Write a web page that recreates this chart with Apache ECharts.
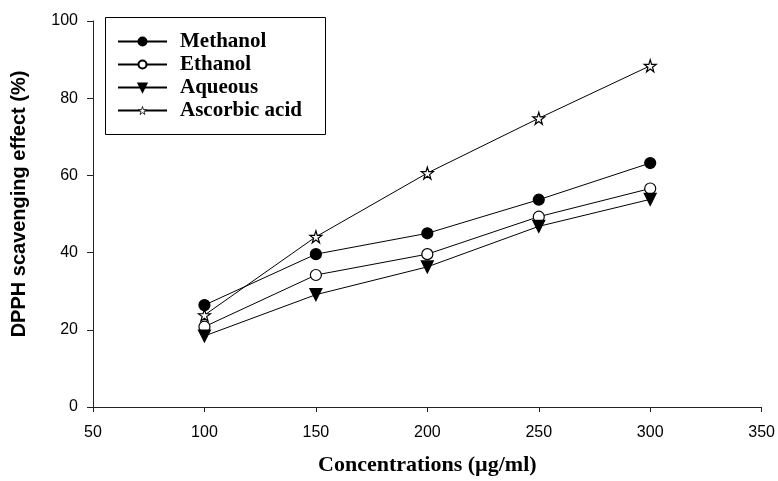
<!DOCTYPE html>
<html>
<head>
<meta charset="utf-8">
<script src="https://cdn.jsdelivr.net/npm/echarts@6/dist/echarts.min.js"></script>
<style>html,body{margin:0;padding:0;background:#fff;}#c{width:778px;height:481px;}</style>
</head>
<body>
<div id="c"></div>
<script>
var concentrations = [100, 150, 200, 250, 300];
var methanol = [26.4, 39.6, 45.0, 53.7, 63.2];
var ethanol = [20.8, 34.2, 39.6, 49.3, 56.6];
var aqueous = [18.4, 29.1, 36.3, 46.8, 53.8];
var ascorbic = [23.8, 44.1, 60.6, 74.8, 88.4];
var seriesNames = ['Methanol', 'Ethanol', 'Aqueous', 'Ascorbic acid'];
var xTicks = [50, 100, 150, 200, 250, 300, 350];
var yTicks = [0, 20, 40, 60, 80, 100];

function pairs(vals) { return concentrations.map(function (c, i) { return [c, vals[i]]; }); }

var starPath = 'path://M50,0 L61,35 L98,35 L68,57 L79,91 L50,70 L21,91 L32,57 L2,35 L39,35 Z';
var triDown = 'path://M0,0 L100,0 L50,90 Z';

function mk(name, data, symbol, size, fill) {
  return {
    name: name, type: 'line', data: pairs(data),
    symbol: symbol, symbolSize: size, showAllSymbol: true,
    lineStyle: { color: '#000', width: 1 },
    itemStyle: { color: fill, borderColor: '#000', borderWidth: 1.2 },
    emphasis: { disabled: true },
    z: 3
  };
}

var chart = echarts.init(document.getElementById('c'), null, { renderer: 'canvas' });
chart.setOption({
  animation: false,
  backgroundColor: '#fff',
  grid: { left: 93, right: 16, top: 21, bottom: 66.5, containLabel: false },
  legend: {
    data: [
      { name: seriesNames[0] },
      { name: seriesNames[1] },
      { name: seriesNames[2] },
      { name: seriesNames[3], itemStyle: { color: '#fff', borderColor: '#000', borderWidth: 0.8 } }
    ],
    orient: 'vertical',
    left: 117, top: 31,
    padding: 0,
    itemGap: 2,
    itemWidth: 49,
    itemHeight: 10,
    textStyle: { fontFamily: 'Liberation Serif', fontWeight: 'bold', fontSize: 21, color: '#000', padding: [0, 0, 0, 8] }
  },
  graphic: [{
    type: 'rect', left: 103, top: 15, z: 10,
    shape: { width: 220, height: 117 },
    style: { fill: 'none', stroke: '#000', lineWidth: 1 }
  }],
  xAxis: {
    type: 'value', min: xTicks[0], max: xTicks[xTicks.length - 1], interval: 50,
    name: 'Concentrations (µg/ml)', nameLocation: 'middle', nameGap: 47,
    nameTextStyle: { fontFamily: 'Liberation Serif', fontWeight: 'bold', fontSize: 22, color: '#000' },
    axisLine: { lineStyle: { color: '#222', width: 1 } },
    axisTick: { show: true, inside: false, length: 5, lineStyle: { color: '#222' } },
    axisLabel: { fontFamily: 'Liberation Sans', fontSize: 16, color: '#000', margin: 18 },
    splitLine: { show: false }
  },
  yAxis: {
    type: 'value', min: yTicks[0], max: yTicks[yTicks.length - 1], interval: 20,
    name: 'DPPH scavenging effect (%)', nameLocation: 'middle', nameGap: 64,
    nameTextStyle: { fontFamily: 'Liberation Sans', fontWeight: 'bold', fontSize: 20, color: '#000', padding: [0, 0, 0, 20] },
    axisLine: { show: true, lineStyle: { color: '#222', width: 1 } },
    axisTick: { show: true, inside: false, length: 6, lineStyle: { color: '#222' } },
    axisLabel: { fontFamily: 'Liberation Sans', fontSize: 16, color: '#000', margin: 15 },
    splitLine: { show: false }
  },
  series: [
    mk(seriesNames[0], methanol, 'circle', 11, '#000'),
    mk(seriesNames[1], ethanol, 'circle', 11, '#fff'),
    mk(seriesNames[2], aqueous, triDown, 12, '#000'),
    mk(seriesNames[3], ascorbic, starPath, 12, '#fff')
  ]
});
</script>
</body>
</html>
